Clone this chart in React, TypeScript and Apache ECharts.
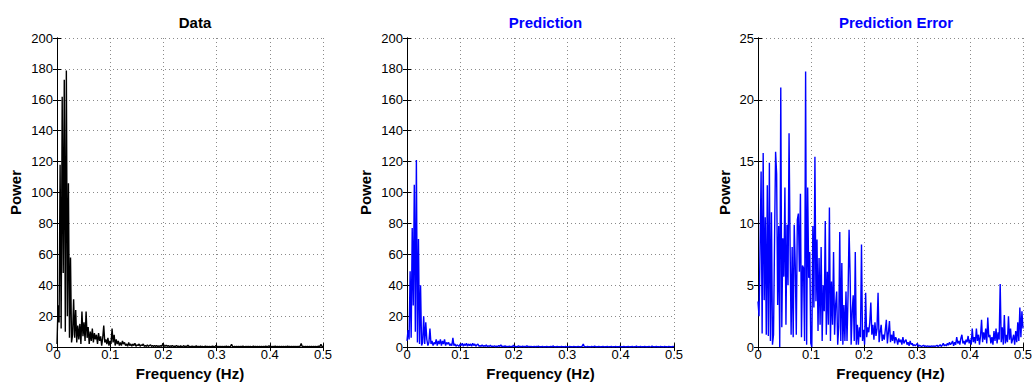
import React, { useEffect, useRef } from "react";
import * as echarts from "echarts";

// Spectral bins are spaced 1/512 Hz apart, from 0 to 0.5 Hz (Nyquist).
const FREQ_STEP = 1 / 512;

const X_TICKS = [0, 0.1, 0.2, 0.3, 0.4, 0.5];
const POWER_MAX_MAIN = 200;
const POWER_STEP_MAIN = 20;
const POWER_MAX_ERROR = 25;
const POWER_STEP_ERROR = 5;

const PANEL_TITLES = ["Data", "Prediction", "Prediction Error"];
const X_NAME = "Frequency (Hz)";
const Y_NAME = "Power";

// Periodogram of the measured signal
const DATA_POWER = [
  2, 27, 16, 118, 12, 162, 48, 173, 10, 179,
  20, 106, 6, 58, 3, 8, 31, 6, 24, 3,
  14, 5, 15, 2, 23, 7, 16, 4, 23, 6,
  13, 2, 10, 4, 12, 3, 9, 5, 8, 2,
  9, 4, 7, 1, 6, 14, 3, 5, 2, 6,
  1, 4, 2, 12, 3, 8, 1, 5, 2, 4,
  1, 3, 1, 4, 2, 3, 1, 2, 0.5, 3,
  1, 2, 0.5, 2, 1, 2.5, 0.5, 1.5, 1, 2,
  0.5, 1.5, 1, 2, 0.5, 1, 0.5, 1.5, 0.5, 1,
  1.5, 0.5, 1, 0.5, 1, 0.5, 1, 0.3, 0.8, 0.5,
  1, 0.5, 2.5, 1, 0.5, 1.2, 0.5, 1, 0.3, 0.8,
  0.5, 1.0, 0.4, 0.7, 0.3, 1.1, 0.4, 0.6, 0.2, 0.8,
  0.3, 0.5, 0.9, 0.2, 0.6, 0.3, 1.2, 0.4, 0.5, 0.2,
  0.7, 0.3, 0.5, 0.2, 0.8, 0.3, 0.4, 0.2, 0.6, 0.3,
  0.5, 0.2, 0.4, 0.7, 0.2, 0.4, 0.3, 0.5, 0.2, 0.4,
  0.6, 0.2, 0.3, 1.0, 0.3, 0.5, 0.2, 0.4, 0.3, 0.5,
  0.2, 0.4, 0.3, 0.6, 0.2, 0.4, 0.3, 0.5, 1.8, 0.4,
  0.3, 0.5, 0.2, 0.4, 0.3, 0.5, 0.2, 0.4, 0.3, 0.6,
  0.2, 0.3, 0.5, 0.2, 0.4, 0.3, 0.5, 0.2, 0.3, 0.6,
  0.2, 0.4, 0.3, 0.5, 0.2, 0.4, 0.3, 0.5, 0.2, 0.4,
  0.3, 0.6, 0.2, 0.4, 0.8, 0.3, 0.5, 0.2, 0.4, 0.3,
  0.6, 0.2, 0.4, 0.3, 0.5, 0.2, 0.4, 0.3, 0.5, 0.2,
  0.4, 0.3, 0.6, 0.2, 0.4, 0.3, 0.5, 0.2, 0.4, 0.3,
  0.5, 0.2, 0.4, 0.3, 0.6, 2.4, 0.3, 0.5, 0.2, 0.4,
  0.3, 0.5, 0.2, 0.4, 0.3, 0.5, 0.2, 0.4, 0.3, 0.5,
  0.2, 0.4, 0.6, 0.3, 1.9, 0.4, 0.5,
];

// Periodogram of the model prediction
const PREDICTION_POWER = [
  4, 11, 5, 49, 6, 77, 27, 105, 10, 121,
  3, 70, 2, 40, 1, 3, 20, 2, 16, 5,
  1, 3, 12, 2, 4, 1, 3, 2, 5, 1,
  4, 2, 5, 1, 4, 2, 5, 1, 3, 2,
  3, 1, 2, 1, 6, 1, 2, 0.5, 1.5, 1,
  0.5, 2, 1, 2.5, 0.5, 2, 1, 2.5, 0.5, 2,
  1, 2, 0.5, 2.5, 1, 2, 0.5, 1.5, 2, 0.5,
  1, 0.5, 1.5, 0.5, 1, 0.5, 1.5, 0.3, 0.8, 0.5,
  1.2, 0.3, 0.7, 0.4, 0.9, 0.2, 0.6, 0.3, 1.0, 0.4,
  1.5, 0.3, 0.6, 0.2, 0.8, 0.3, 0.5, 0.2, 0.7, 0.3,
  0.5, 0.2, 1.2, 0.3, 0.5, 0.2, 0.4, 0.8, 0.2, 0.4,
  0.3, 0.6, 0.2, 0.4, 0.3, 0.9, 0.2, 0.4, 0.3, 0.5,
  0.2, 0.3, 0.5, 0.2, 0.4, 0.3, 0.6, 0.2, 0.3, 0.2,
  0.4, 0.1, 0.3, 0.2, 0.5, 0.1, 0.3, 0.2, 0.4, 0.1,
  0.8, 0.2, 0.3, 0.1, 0.4, 0.2, 0.3, 0.1, 0.4, 0.2,
  0.3, 0.1, 0.5, 0.2, 0.3, 0.1, 0.4, 0.2, 0.3, 0.1,
  0.5, 0.2, 0.3, 0.1, 0.4, 0.2, 0.3, 0.1, 0.6, 2.0,
  0.2, 0.3, 0.1, 0.4, 0.2, 0.3, 0.1, 0.4, 0.2, 0.3,
  0.7, 0.1, 0.3, 0.2, 0.4, 0.1, 0.3, 0.2, 0.4, 0.1,
  0.3, 0.2, 0.5, 0.1, 0.3, 0.2, 0.4, 0.1, 0.3, 0.2,
  0.5, 0.1, 0.3, 0.2, 0.4, 0.1, 0.3, 0.2, 0.4, 0.1,
  0.3, 0.2, 0.5, 0.1, 0.3, 0.2, 0.4, 0.1, 0.3, 0.2,
  0.7, 0.1, 0.3, 0.2, 0.4, 0.1, 0.3, 0.2, 0.4, 0.1,
  0.3, 0.2, 0.5, 0.1, 0.3, 0.6, 0.2, 0.3, 0.1, 0.4,
  0.2, 0.3, 0.1, 0.4, 0.2, 0.3, 0.1, 0.4, 0.2, 0.3,
  0.1, 0.4, 0.2, 0.3, 0.1, 0.4, 0.2,
];

// Periodogram of the residual (data minus prediction)
const ERROR_POWER = [
  3.7, 2.5, 8, 14.2, 1.1, 15.7, 3.8, 10.5, 1.0, 13.1,
  0.9, 14.9, 0.5, 10.9, 0.2, 1.0, 8.7, 15.8, 14.0, 3.4,
  9.8, 0.0, 21.0, 1.6, 8.8, 5.7, 12.9, 1.8, 9.9, 5.0,
  17.3, 8.2, 1.0, 8.1, 0.8, 9.9, 6.6, 1.0, 10.3, 10.8,
  6.1, 12.4, 0.8, 6.6, 6.4, 0.5, 22.3, 0.2, 12.9, 5.6,
  7.7, 0.3, 0.0, 9.8, 3.2, 15.4, 3.7, 8.7, 1.3, 7.2,
  1.8, 8.1, 0.5, 5.0, 2.9, 10.2, 1.0, 6.1, 1.8, 11.3,
  0.5, 5.3, 1.8, 7.7, 1.0, 3.4, 4.5, 0.2, 1.6, 9.3,
  0.5, 6.8, 0.2, 3.4, 0.5, 4.5, 0.5, 4.2, 9.5, 5.8,
  0.2, 2.9, 4.2, 0.5, 7.7, 0.2, 1.8, 0.2, 1.6, 0.8,
  8.3, 0.5, 1.4, 0.2, 4.4, 0.8, 1.6, 1.2, 2.0, 3.6,
  1.0, 1.8, 0.6, 2.0, 0.9, 1.5, 4.4, 0.4, 1.2, 1.8,
  0.5, 1.0, 0.6, 1.4, 2.2, 0.3, 1.2, 2.1, 0.4, 1.0,
  0.5, 1.3, 0.3, 0.8, 0.6, 0.2, 0.7, 0.4, 0.6, 0.2,
  0.8, 0.3, 0.5, 0.6, 0.2, 0.4, 0.1, 0.5, 0.2, 0.3,
  0.1, 0.2, 0.1, 0.2, 0.3, 0.05, 0.15, 0.1, 0.05, 0.1,
  0.15, 0.05, 0.1, 0.05, 0.1, 0.05, 0.08, 0.05, 0.1, 0.05,
  0.1, 0.05, 0.1, 0.15, 0.05, 0.1, 0.2, 0.05, 0.15, 0.3,
  0.1, 0.2, 0.1, 0.3, 0.15, 0.4, 0.2, 0.3, 0.5, 0.1,
  0.4, 0.2, 0.8, 0.3, 0.5, 0.2, 0.7, 1.0, 0.3, 0.5,
  0.2, 0.6, 0.4, 0.9, 0.3, 0.6, 0.2, 1.5, 0.4, 0.8,
  0.3, 1.5, 0.5, 1.0, 0.2, 0.9, 2.2, 0.4, 1.2, 0.6,
  1.5, 0.3, 2.4, 0.8, 1.0, 0.3, 0.8, 0.2, 1.3, 0.5,
  1.5, 0.3, 1.2, 0.6, 5.1, 0.4, 1.6, 0.2, 2.6, 0.3,
  1.0, 0.4, 2.5, 0.6, 1.5, 0.3, 0.6, 1.0, 0.2, 1.3,
  0.4, 2.0, 0.5, 3.2, 0.8, 2.9, 1.5,
];

const BLACK = "#000000";
const BLUE = "#0000ff";
const FONT = "'Liberation Sans', Arial, Helvetica, sans-serif";

const PANELS = [
  { title: PANEL_TITLES[0], titleColor: BLACK, lineColor: BLACK, values: DATA_POWER, yMax: POWER_MAX_MAIN, yStep: POWER_STEP_MAIN, left: 57, width: 266, nameGap: 34 },
  { title: PANEL_TITLES[1], titleColor: BLUE, lineColor: BLUE, values: PREDICTION_POWER, yMax: POWER_MAX_MAIN, yStep: POWER_STEP_MAIN, left: 407, width: 267, nameGap: 34 },
  { title: PANEL_TITLES[2], titleColor: BLUE, lineColor: BLUE, values: ERROR_POWER, yMax: POWER_MAX_ERROR, yStep: POWER_STEP_ERROR, left: 758, width: 266, nameGap: 26 },
];

const GRID_TOP = 38;
const GRID_HEIGHT = 312;

function buildOption() {
  const grid: any[] = [];
  const xAxis: any[] = [];
  const yAxis: any[] = [];
  const series: any[] = [];
  const title: any[] = [];

  const line = { show: true, lineStyle: { color: BLACK, width: 1 } };
  const tick = { show: true, inside: true, length: 4, lineStyle: { color: BLACK, width: 1 } };
  const split = { show: true, lineStyle: { color: "#8a8a8a", width: 1, type: [1, 3] } };
  const label = { color: BLACK, fontSize: 13, fontFamily: FONT };
  const nameStyle = { color: BLACK, fontSize: 15, fontWeight: "bold", fontFamily: FONT };

  PANELS.forEach((p, i) => {
    grid.push({ left: p.left, top: GRID_TOP, width: p.width, height: GRID_HEIGHT, containLabel: false });
    title.push({
      text: p.title,
      left: p.left + p.width / 2,
      top: 10,
      textAlign: "center",
      textStyle: { color: p.titleColor, fontSize: 15, fontWeight: "bold", fontFamily: FONT },
    });

    const xBase = {
      type: "value",
      gridIndex: i,
      min: X_TICKS[0],
      max: X_TICKS[X_TICKS.length - 1],
      interval: X_TICKS[1] - X_TICKS[0],
      axisLine: line,
      axisTick: tick,
    };
    xAxis.push({
      ...xBase,
      position: "bottom",
      axisLabel: { ...label, margin: 1 },
      splitLine: split,
      name: X_NAME,
      nameLocation: "middle",
      nameGap: 15,
      nameTextStyle: nameStyle,
    });
    xAxis.push({ ...xBase, position: "top", axisLabel: { show: false }, splitLine: { show: false } });

    const yBase = {
      type: "value",
      gridIndex: i,
      min: 0,
      max: p.yMax,
      interval: p.yStep,
      axisLine: line,
      axisTick: tick,
    };
    yAxis.push({
      ...yBase,
      position: "left",
      axisLabel: { ...label, margin: 4 },
      splitLine: split,
      name: Y_NAME,
      nameLocation: "middle",
      nameGap: p.nameGap,
      nameTextStyle: nameStyle,
    });
    yAxis.push({ ...yBase, position: "right", axisLabel: { show: false }, splitLine: { show: false } });

    series.push({
      type: "line",
      xAxisIndex: i * 2,
      yAxisIndex: i * 2,
      data: p.values.map((v, k) => [k * FREQ_STEP, v]),
      showSymbol: false,
      symbol: "none",
      lineStyle: { color: p.lineColor, width: 1.4 },
      clip: true,
    });
  });

  return {
    animation: false,
    backgroundColor: "#ffffff",
    textStyle: { fontFamily: FONT },
    title,
    grid,
    xAxis,
    yAxis,
    series,
  };
}

export default function App() {
  const ref = useRef<HTMLDivElement | null>(null);

  useEffect(() => {
    if (!ref.current) return;
    const chart = echarts.init(ref.current, undefined, { renderer: "svg" });
    chart.setOption(buildOption());
    return () => chart.dispose();
  }, []);

  return (
    <div
      ref={ref}
      style={{ position: "fixed", left: 0, top: 0, width: 1035, height: 386, background: "#fff" }}
    />
  );
}
